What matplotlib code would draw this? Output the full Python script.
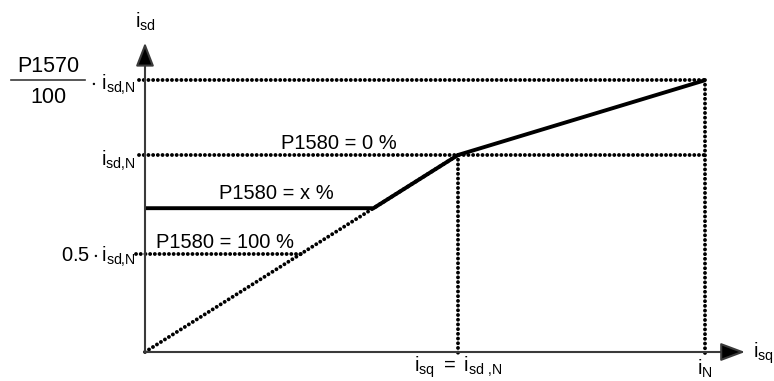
import matplotlib
matplotlib.use("Agg")
import matplotlib.pyplot as plt

plt.rcParams['font.family'] = ['Liberation Sans', 'DejaVu Sans']
plt.rcParams['mathtext.fontset'] = 'custom'
plt.rcParams['mathtext.rm'] = 'Liberation Sans'
plt.rcParams['mathtext.it'] = 'Liberation Sans'
plt.rcParams['mathtext.default'] = 'regular'

# ---- data (normalised: i_sd,N = 1) ----
x_knee = 1.0          # i_sq = i_sd,N
x_N = 1.79            # i_N
y_N = 1.0             # i_sd,N
y_max = 1.38          # P1570/100 * i_sd,N
y_x = 0.73            # level for P1580 = x %
y_half = 0.5          # 0.5 * i_sd,N

curve_x = [0.0, y_x, x_knee, x_N]        # P1580 = x % characteristic
curve_y = [y_x, y_x, y_N, y_max]
diag_x = [0.0, x_knee]                   # P1580 = 100 % characteristic
diag_y = [0.0, y_N]

x_axis_end = 1.917
y_axis_end = 1.57

# ---- figure ----
W, H = 774, 381
fig = plt.figure(figsize=(W / 100, H / 100), dpi=100)
ax = fig.add_axes([0, 0, 1, 1])
ox, oy, sx, sy = 145, 352, 313, 197
ax.set_xlim(-ox / sx, (W - ox) / sx)
ax.set_ylim((oy - H) / sy, oy / sy)
ax.axis('off')

axc = '#3a3a3a'
fs = 14.5
dot = dict(color='black', lw=2.8, linestyle=(0, (0.01, 1.2)), dash_capstyle='round',
           solid_capstyle='round')

# axes with arrows
ax.annotate('', xy=(x_axis_end, 0), xytext=(0, 0),
            arrowprops=dict(arrowstyle='-|>,head_length=0.75,head_width=0.28',
                            mutation_scale=20, lw=1.5, color=axc, fc='black', shrinkA=0, shrinkB=0))
ax.annotate('', xy=(0, y_axis_end), xytext=(0, 0),
            arrowprops=dict(arrowstyle='-|>,head_length=0.72,head_width=0.28',
                            mutation_scale=20, lw=1.5, color=axc, fc='black', shrinkA=0, shrinkB=0))

# dotted guide lines
ax.plot([-0.02, x_N], [y_max, y_max], **dot)
ax.plot([-0.02, x_N], [y_N, y_N], **dot)
ax.plot([-0.03, y_half], [y_half, y_half], **dot)
ax.plot([x_knee, x_knee], [y_N, -0.025], **dot)
ax.plot([x_N, x_N], [y_max, -0.025], **dot)
ax.plot(diag_x, diag_y, **dot)

# solid characteristic
ax.plot(curve_x, curve_y, color='black', lw=2.8, solid_joinstyle='miter', solid_capstyle='butt')

# labels
ax.text(0, 1.675, r'$i_{sd}$', ha='center', va='center', fontsize=fs)
ax.text(x_axis_end + 0.025, -0.005, r'$i_{sq}$', ha='left', va='center', fontsize=fs)
ax.text(-0.31, 1.447, 'P1570', ha='center', va='center', fontsize=fs + 1)
ax.text(-0.31, 1.294, '100', ha='center', va='center', fontsize=fs + 1)
ax.plot([-0.428, -0.192], [y_max, y_max], color=axc, lw=1.2)
ax.text(-0.03, y_max - 0.025, r'$\cdot\ i_{sd{,}N}$', ha='right', va='center', fontsize=fs)
ax.text(-0.03, y_N - 0.03, r'$i_{sd{,}N}$', ha='right', va='center', fontsize=fs)
ax.text(-0.03, y_half - 0.015, r'$0.5\cdot i_{sd{,}N}$', ha='right', va='center', fontsize=fs)

ax.text(0.62, y_N + 0.012, 'P1580 = 0 %', ha='center', va='bottom', fontsize=fs)
ax.text(0.42, y_x + 0.025, 'P1580 = x %', ha='center', va='bottom', fontsize=fs)
ax.text(0.256, y_half + 0.008, 'P1580 = 100 %', ha='center', va='bottom', fontsize=fs)

ax.text(x_knee, -0.143, r'$i_{sq}\ =\ i_{sd\ {,}N}$', ha='center', va='bottom', fontsize=fs)
ax.text(x_N, -0.143, r'$i_N$', ha='center', va='bottom', fontsize=fs)

fig.savefig('out.png', dpi=100)
